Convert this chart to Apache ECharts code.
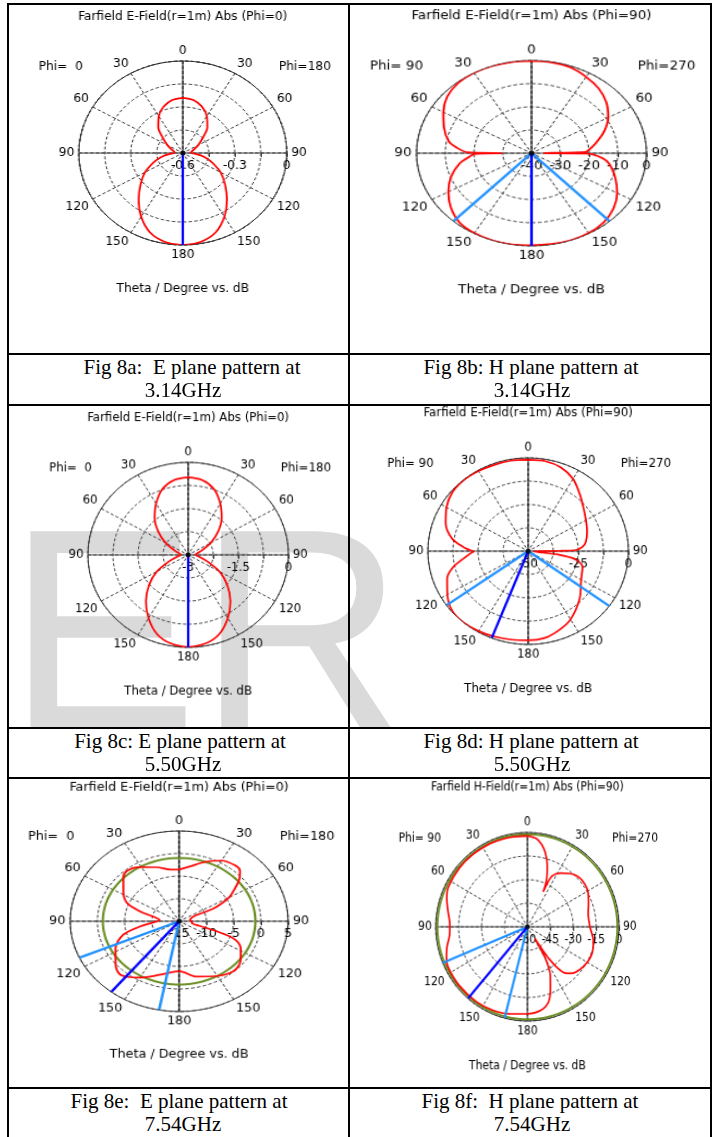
<!DOCTYPE html>
<html>
<head>
<meta charset="utf-8">
<script src="https://cdn.jsdelivr.net/npm/echarts@6/dist/echarts.min.js"></script>
<style>
  html, body { margin: 0; padding: 0; background: #fff; }
  body { width: 715px; height: 1137px; position: relative; overflow: hidden; }
  .wm { position: absolute; left: 0; top: 405px; width: 715px; height: 322px; z-index: 0; }
  .chart { position: absolute; width: 380px; height: 300px; transform-origin: 0 0; z-index: 1; }
  .line { position: absolute; background: #000; z-index: 3; }
  .cap { position: absolute; width: 340px; margin-left: -170px; font-family: 'Liberation Serif', 'Times New Roman', serif;
         font-size: 21px; line-height: 23px; text-align: center; white-space: pre; color: #000; z-index: 2; }
</style>
</head>
<body>
<svg class="wm" width="715" height="322">
  <text x="7" y="323" font-family="Liberation Sans, Arial, sans-serif" font-size="286" fill="#dadada">ER</text>
</svg>

<!-- table rules -->
<div class="line" style="left:7px;top:3px;width:705px;height:2px"></div>
<div class="line" style="left:7px;top:353px;width:705px;height:2px"></div>
<div class="line" style="left:7px;top:404px;width:705px;height:2px"></div>
<div class="line" style="left:7px;top:727px;width:705px;height:2px"></div>
<div class="line" style="left:7px;top:777px;width:705px;height:2px"></div>
<div class="line" style="left:7px;top:1087px;width:705px;height:2px"></div>
<div class="line" style="left:7px;top:3px;width:2px;height:1140px"></div>
<div class="line" style="left:348px;top:3px;width:2px;height:1140px"></div>
<div class="line" style="left:710px;top:3px;width:2px;height:1140px"></div>

<div id="pa" class="chart"></div>
<div id="pb" class="chart"></div>
<div id="pc" class="chart"></div>
<div id="pd" class="chart"></div>
<div id="pe" class="chart"></div>
<div id="pf" class="chart"></div>

<!-- captions, one line each -->
<div class="cap" style="left:192px;top:356px">Fig 8a:  E plane pattern at</div>
<div class="cap" style="left:183px;top:379px">3.14GHz</div>
<div class="cap" style="left:531px;top:356px">Fig 8b: H plane pattern at</div>
<div class="cap" style="left:532px;top:379px">3.14GHz</div>
<div class="cap" style="left:180px;top:730px">Fig 8c: E plane pattern at</div>
<div class="cap" style="left:183px;top:753px">5.50GHz</div>
<div class="cap" style="left:531px;top:730px">Fig 8d: H plane pattern at</div>
<div class="cap" style="left:532px;top:753px">5.50GHz</div>
<div class="cap" style="left:179px;top:1090px">Fig 8e:  E plane pattern at</div>
<div class="cap" style="left:183px;top:1113px">7.54GHz</div>
<div class="cap" style="left:530px;top:1090px">Fig 8f:  H plane pattern at</div>
<div class="cap" style="left:532px;top:1113px">7.54GHz</div>

<script>
// ---------- angle ticks (theta, folded onto both half planes) ----------
const ANGLE_TICKS  = [90, 120, 150, 180, 210, 240, 270, 300, 330, 360, 390, 420, 450];
const ANGLE_LABELS = ['90', '120', '150', '180', '150', '120', '90', '60', '30', '0', '30', '60', '90'];

// ---------- Fig 8a : E plane, 3.14 GHz ----------
const thetaA = [0,10,20,30,40,50,60,70,80,88,95,100,105,110,120,130,140,150,160,170,180,
                190,200,210,220,230,240,250,255,260,265,272,280,290,300,310,320,330,340,350,360];
const dbA = [-0.24,-0.249,-0.278,-0.323,-0.38,-0.452,-0.498,-0.531,-0.549,-0.552,-0.522,-0.486,-0.453,-0.42,
             -0.348,-0.282,-0.204,-0.12,-0.048,-0.011,0,-0.011,-0.048,-0.12,-0.204,-0.282,-0.348,-0.42,-0.453,
             -0.486,-0.522,-0.552,-0.549,-0.531,-0.498,-0.452,-0.38,-0.323,-0.278,-0.249,-0.24];
const radialTicksA  = [-0.6, -0.45, -0.3, -0.15, 0];
const radialLabelsA = ['-0.6', '', '-0.3', '', '0'];
const mainLobeA = [180];
const beamA = [];

// ---------- Fig 8b : H plane, 3.14 GHz ----------
const thetaB = [0,10,20,30,40,50,60,70,80,86,88.5,89.5,90.5,95,100,110,120,130,140,150,
                160,170,180,190,200,210,220,230,240,250,260,266,269,270,271,275,280,290,300,310,
                320,330,340,350,360];
const dbB = [-0.2,-0.2,-0.6,-2.0,-3.6,-6.0,-9.2,-13.2,-17.6,-20.0,-21.2,-35.7,-20.8,-15.2,-12.4,-9.0,-5.6,-2.8,-1.0,-0.2,
             0,-0.2,-0.3,0,0,-0.2,-1.0,-3.4,-6.6,-10.2,-14.6,-18.4,-20.0,-29.8,-17.6,-14.0,-10.8,-7.6,-4.6,-1.8,
             -0.4,0,0,-0.1,-0.2];
const radialTicksB  = [-40, -30, -20, -10, 0];
const radialLabelsB = ['-40', '-30', '-20', '-10', '0'];
const mainLobeB = [180];
const beamB = [137.3, 222.8];

// ---------- Fig 8c : E plane, 5.50 GHz ----------
const thetaC = [0,10,20,30,40,50,60,70,80,88,95,100,110,120,130,140,150,160,170,180,
                190,200,210,220,230,240,250,260,265,272,280,290,300,310,320,330,340,350,360];
const dbC = [-0.486,-0.54,-0.735,-1.08,-1.44,-1.83,-2.22,-2.55,-2.73,-2.775,-2.745,-2.67,-2.4,-1.92,-1.47,-1.035,-0.63,-0.27,-0.075,-0.015,
             -0.075,-0.27,-0.63,-1.035,-1.47,-1.92,-2.4,-2.67,-2.745,-2.775,-2.73,-2.55,-2.22,-1.83,-1.44,-1.08,-0.735,-0.54,-0.486];
const radialTicksC  = [-3, -2.25, -1.5, -0.75, 0];
const radialLabelsC = ['-3', '', '-1.5', '', '0'];
const mainLobeC = [180];
const beamC = [];

// ---------- Fig 8d : H plane, 5.50 GHz ----------
const thetaD = [0,10,20,30,40,50,60,70,80,85,88.7,89.5,90.5,93,96,97,99,101,107,120,
                135,150,160,170,180,190,200,210,220,230,240,250,257,263,268,269.5,271,274,280,290,
                300,310,320,330,340,350,360];
const dbD = [-1.0,-1.0,-2.25,-5.25,-10.0,-14.0,-16.75,-18.75,-20.75,-22.75,-26.25,-35.0,-45.0,-47.0,-42.5,-35.0,-29.0,-25.5,-21.65,-19.5,
             -13.75,-7.75,-5.0,-2.75,-2.25,-1.85,-1.25,-0.5,0,-0.5,-3.5,-7.0,-11.5,-17.5,-21.5,-22.75,-21.0,-17.5,-11.5,-6.25,
             -3.0,-0.75,-0.25,-0.5,-0.75,-0.75,-1.0];
const radialTicksD  = [-50, -37.5, -25, -12.5, 0];
const radialLabelsD = ['-50', '', '-25', '', '0'];
const mainLobeD = [201.3];
const beamD = [126, 234.5];

// ---------- Fig 8e : E plane, 7.54 GHz ----------
const thetaE = [0,10,20,30,40,45,50,55,60,65,66.5,68,75,85,92,100,105,108,111,118,
                128,138,150,165,180,196,210,222,230,243,254,261,266,270,275,280,287,293,303,313,
                319,329,341,352,360];
const dbE = [-3.56,-2.6,-1.0,0.5,1.1,0.8,-0.6,-2.6,-4.4,-7.4,-9.44,-12.2,-12.8,-13.0,-12.6,-12.6,-11.2,-7.6,-4.2,-2.2,
             -0.7,-0.1,-1.0,-2.3,-3.94,-2.7,-0.6,1.0,0.2,-1.9,-4.4,-7.8,-10.0,-11.0,-11.4,-10.8,-7.5,-4.6,-2.8,-1.0,
             -0.3,-1.0,-2.36,-3.44,-3.56];
const radialTicksE  = [-15, -10, -5, 0, 5];
const radialLabelsE = ['-15', '-10', '-5', '0', '5'];
const refLevelE = -1;
const mainLobeE = [218.5];
const beamE = [190.6, 246.2];

// ---------- Fig 8f : H plane, 7.54 GHz ----------
const thetaF = [0,6,10,14,18.7,22.8,24.9,25.2,26.7,32.8,43,52,62,70,78,90,102,113,125,136,
                140,143,145,146,147,148,149.5,152,154,159,164,171,180,192,203,215,230,244,250,256,
                265,272,281,289,296,310,322,335,342,350,360];
const dbF = [-2.16,-3.54,-6.66,-11.46,-19.44,-27.72,-35.46,-29.52,-23.76,-19.44,-14.76,-13.56,-14.88,-17.4,-19.32,-19.02,-15.84,-14.34,-15.6,-18.84,
             -21.6,-27.0,-34.8,-42.0,-51.0,-45.0,-37.2,-30.0,-25.74,-17.88,-10.02,-6.0,-4.56,-3.36,-2.28,-1.8,-1.8,-2.1,-3.6,-5.7,
             -8.94,-9.18,-7.02,-4.2,-2.4,-1.92,-1.8,-1.8,-1.92,-2.04,-2.16];
const radialTicksF  = [-60, -45, -30, -15, 0];
const radialLabelsF = ['-60', '-45', '-30', '-15', '0'];
const refLevelF = -1.1;
const mainLobeF = [220.4];
const beamF = [194.4, 247.5];

// sampling angles for the constant reference circles
const REF_ANGLES = Array.from({ length: 73 }, (_, i) => i * 5);

const FONT = "'DejaVu Sans Condensed', 'Liberation Sans', sans-serif";
const FS = 12;
const INK = '#000';
const W0 = 380, H0 = 300, CX0 = 190, CY0 = 150, R0 = 92;

// theta (clockwise from top) -> angle-axis value (axis starts at 3 o'clock with value 90)
function toAxis(t) { return t < 90 ? t + 360 : t; }

function pickLabel(ticks, labels) {
  return function (v) {
    for (let i = 0; i < ticks.length; i++) if (Math.abs(ticks[i] - v) < 1e-6) return labels[i];
    return '';
  };
}

function txt(x, y, text) {
  return {
    type: 'text', x: x, y: y, z: 10,
    style: { text: text, fill: INK, fontSize: FS, fontFamily: FONT,
             align: 'center', verticalAlign: 'middle', textAlign: 'center', textVerticalAlign: 'middle' }
  };
}

function drawPlot(cfg) {
  const el = document.getElementById(cfg.id);
  const sx = cfg.hr / R0, sy = cfg.vr / R0;
  el.style.left = (cfg.cx - CX0 * sx) + 'px';
  el.style.top = (cfg.cy - CY0 * sy) + 'px';
  el.style.transform = 'scale(' + sx + ',' + sy + ')';

  const chart = echarts.init(el, null, { renderer: 'canvas', width: W0, height: H0 });
  const rMin = cfg.ticks[0], rMax = cfg.ticks[cfg.ticks.length - 1];
  const step = cfg.ticks[1] - cfg.ticks[0];
  const C = [CX0, CY0];

  const series = [];
  if (cfg.ref !== undefined) {
    series.push({
      type: 'line', coordinateSystem: 'polar', polarIndex: 0, symbol: 'none', silent: true, smooth: 0.3,
      data: REF_ANGLES.map(a => [cfg.ref, toAxis(a)]),
      lineStyle: { color: '#6b8e23', width: 2 }, z: 3
    });
  }
  series.push({
    type: 'line', coordinateSystem: 'polar', polarIndex: 0, symbol: 'none', silent: true, smooth: 0.3,
    data: cfg.theta.map((t, i) => [cfg.db[i], toAxis(t)]),
    lineStyle: { color: '#ff0000', width: 1.7 }, z: 4
  });
  cfg.beam.forEach(a => series.push({
    type: 'line', coordinateSystem: 'polar', polarIndex: 0, symbol: 'none', silent: true,
    data: [[rMin, toAxis(a)], [rMax, toAxis(a)]],
    lineStyle: { color: '#1e90ff', width: 2.2 }, z: 5
  }));
  cfg.main.forEach(a => series.push({
    type: 'line', coordinateSystem: 'polar', polarIndex: 0, symbol: 'none', silent: true,
    data: [[rMin, toAxis(a)], [rMax, toAxis(a)]],
    lineStyle: { color: '#0000ff', width: 2.2 }, z: 6
  }));
  series.push({
    type: 'scatter', coordinateSystem: 'polar', polarIndex: 0, silent: true,
    data: [[rMin, 90]], symbolSize: 5, itemStyle: { color: '#000' }, z: 7
  });

  const hidden = { show: false };
  chart.setOption({
    animation: false,
    polar: [
      { center: C, radius: R0 },
      { center: C, radius: R0 },
      { center: C, radius: R0 }
    ],
    angleAxis: [
      {
        polarIndex: 0, type: 'value', min: 90, max: 450, interval: 30, startAngle: 0, clockwise: true,
        axisLine: { show: true, lineStyle: { color: '#333', width: 1 } },
        axisTick: hidden,
        axisLabel: { show: true, margin: 4, color: INK, fontSize: FS, fontFamily: FONT,
                     formatter: pickLabel(ANGLE_TICKS, ANGLE_LABELS) },
        splitLine: { show: true, lineStyle: { color: '#3a3a3a', width: 1, type: [3, 2] } }
      },
      { // vertical solid 0-180 line
        polarIndex: 1, type: 'value', min: 0, max: 360, interval: 180, startAngle: 90,
        axisLine: hidden, axisTick: hidden, axisLabel: hidden,
        splitLine: { show: true, lineStyle: { color: '#000', width: 1, type: 'solid' } }
      },
      { // horizontal solid 90-90 line
        polarIndex: 2, type: 'value', min: 0, max: 360, interval: 180, startAngle: 0,
        axisLine: hidden, axisTick: hidden, axisLabel: hidden,
        splitLine: { show: true, lineStyle: { color: '#444', width: 1, type: 'solid' } }
      }
    ],
    radiusAxis: [
      {
        polarIndex: 0, type: 'value', min: rMin, max: rMax, interval: step,
        axisLine: hidden,
        axisTick: { show: true, length: -4, lineStyle: { color: '#333' } },
        axisLabel: { show: true, margin: -19, color: INK, fontSize: FS, fontFamily: FONT,
                     formatter: pickLabel(cfg.ticks, cfg.labels) },
        splitLine: { show: true, lineStyle: { color: '#3a3a3a', width: 1, type: [3, 2] } }
      },
      { polarIndex: 1, type: 'value', min: 0, max: 1, show: false, splitLine: hidden },
      { polarIndex: 2, type: 'value', min: 0, max: 1, show: false, splitLine: hidden }
    ],
    graphic: [
      txt(CX0, CY0 - 136, cfg.title),
      txt(CX0 - 108, CY0 - 86, cfg.phiL),
      txt(CX0 + 108, CY0 - 86, cfg.phiR),
      txt(CX0, CY0 + 136, 'Theta / Degree vs. dB')
    ],
    series: series
  });
}

const PLOTS = [
  { id: 'pa', cx: 183, cy: 153, hr: 104, vr: 92,
    title: 'Farfield E-Field(r=1m) Abs (Phi=0)', phiL: 'Phi=  0', phiR: 'Phi=180',
    theta: thetaA, db: dbA, ticks: radialTicksA, labels: radialLabelsA, main: mainLobeA, beam: beamA },
  { id: 'pb', cx: 531.7, cy: 153.3, hr: 115, vr: 92.7,
    title: 'Farfield E-Field(r=1m) Abs (Phi=90)', phiL: 'Phi= 90', phiR: 'Phi=270',
    theta: thetaB, db: dbB, ticks: radialTicksB, labels: radialLabelsB, main: mainLobeB, beam: beamB },
  { id: 'pc', cx: 188.3, cy: 555, hr: 100.3, vr: 92.5,
    title: 'Farfield E-Field(r=1m) Abs (Phi=0)', phiL: 'Phi=  0', phiR: 'Phi=180',
    theta: thetaC, db: dbC, ticks: radialTicksC, labels: radialLabelsC, main: mainLobeC, beam: beamC },
  { id: 'pd', cx: 528, cy: 551, hr: 100.3, vr: 93.3,
    title: 'Farfield E-Field(r=1m) Abs (Phi=90)', phiL: 'Phi= 90', phiR: 'Phi=270',
    theta: thetaD, db: dbD, ticks: radialTicksD, labels: radialLabelsD, main: mainLobeD, beam: beamD },
  { id: 'pe', cx: 179, cy: 921.7, hr: 109, vr: 90.3,
    title: 'Farfield E-Field(r=1m) Abs (Phi=0)', phiL: 'Phi=  0', phiR: 'Phi=180',
    theta: thetaE, db: dbE, ticks: radialTicksE, labels: radialLabelsE, main: mainLobeE, beam: beamE, ref: refLevelE },
  { id: 'pf', cx: 527.7, cy: 926.5, hr: 91.7, vr: 94.3,
    title: 'Farfield H-Field(r=1m) Abs (Phi=90)', phiL: 'Phi= 90', phiR: 'Phi=270',
    theta: thetaF, db: dbF, ticks: radialTicksF, labels: radialLabelsF, main: mainLobeF, beam: beamF, ref: refLevelF }
];

PLOTS.forEach(drawPlot);
</script>
</body>
</html>
